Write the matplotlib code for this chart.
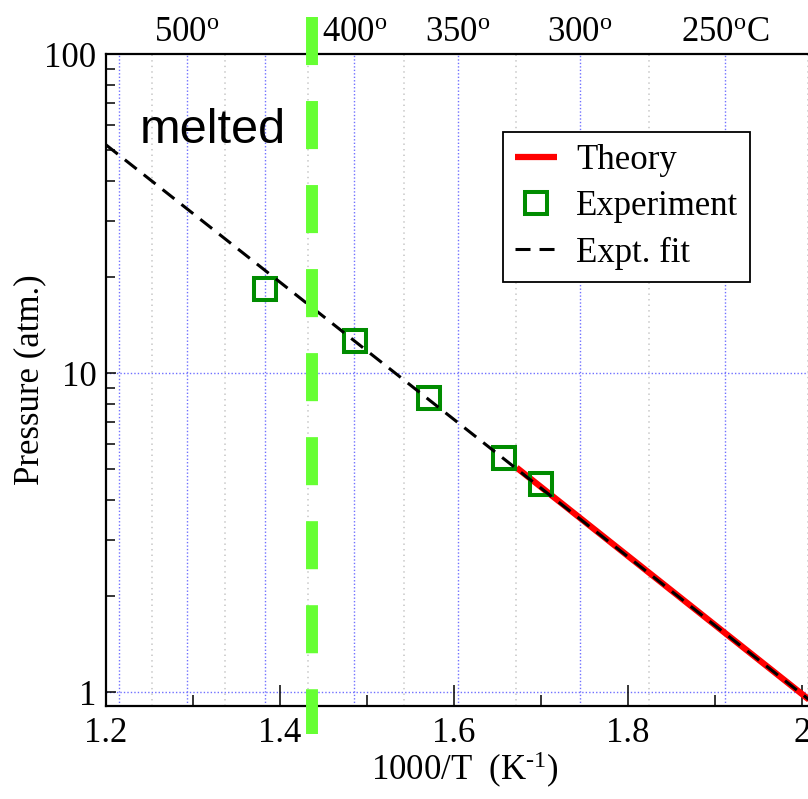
import matplotlib
matplotlib.use("Agg")
import matplotlib.pyplot as plt
import matplotlib.transforms as mtransforms
from matplotlib.ticker import FixedLocator, FixedFormatter, NullFormatter

plt.rcParams['font.family'] = ['Liberation Serif', 'DejaVu Serif']
plt.rcParams['mathtext.fontset'] = 'custom'
plt.rcParams['mathtext.rm'] = 'Liberation Serif'
plt.rcParams['mathtext.it'] = 'Liberation Serif:italic'
plt.rcParams['lines.scale_dashes'] = False

# ---- data ----
exp_x = [1.383, 1.486, 1.571, 1.658, 1.700]
exp_p = [18.3, 12.6, 8.35, 5.41, 4.49]
fit_x = [1.20, 2.025]
fit_p = [51.9, 0.87]
theory_x = [1.672, 2.025]
theory_p = [5.05, 0.87]
melt_x = 1.437
top_label_temps = [500, 400, 350, 300, 250]
top_label_texts = ['500$^{\\mathrm{o}}$', '400$^{\\mathrm{o}}$', '350$^{\\mathrm{o}}$',
                   '300$^{\\mathrm{o}}$', '250$^{\\mathrm{o}}$C']
blue_grid_temps = [550, 500, 450, 400, 350, 300, 250]
gray_grid_temps = [525, 475, 425, 375, 325, 275, 225]
y_major = [1, 10, 100]
x_major = [1.2, 1.4, 1.6, 1.8, 2.0]
x_major_labels = ['1.2', '1.4', '1.6', '1.8', '2']
x_minor = [1.3, 1.5, 1.7, 1.9]


def c_to_inv(tc):
    return 1000.0 / (tc + 273.15)


fig = plt.figure(figsize=(8.08, 7.99), dpi=100)
ax = fig.add_axes([106 / 808, 93 / 799, 717.75 / 808, 652 / 799])
ax.set_yscale('log')
ax.set_xlim(1.2, 2.025)
ax.set_ylim(0.904, 100)

# grid lines
for t in blue_grid_temps:
    ax.axvline(c_to_inv(t), color='#7070ff', ls=(0, (1, 1.5)), lw=1.0, zorder=1)
for t in gray_grid_temps:
    ax.axvline(c_to_inv(t), color='#c8c8c8', ls=(0, (1, 3)), lw=1.2, zorder=1)
for yv in [1, 10]:
    ax.axhline(yv, color='#7070ff', ls=(0, (1, 1.5)), lw=1.0, zorder=1)

# series
ax.plot(theory_x, theory_p, color='#ff0000', lw=4.5, solid_capstyle='butt',
        label='Theory', zorder=3)
ax.plot(exp_x, exp_p, ls='none', marker='s', ms=15.5, mfc='none', mec='#008c00',
        mew=2.9, label='Experiment', zorder=4)
ax.plot(fit_x, fit_p, color='black', lw=2.2, dashes=(10.8, 6.5),
        dash_capstyle='butt', label='Expt. fit', zorder=5)

# melting line
trans = mtransforms.blended_transform_factory(ax.transData, ax.transAxes)
ax.plot([melt_x, melt_x], [1.0567, -0.043], transform=trans, clip_on=False,
        color='#66ff33', lw=8.6, dashes=(34.6, 25.9), dash_capstyle='butt', zorder=6)

ax.text(1.239, 52.6, 'melted', family='Liberation Sans', fontsize=35,
        va='baseline', ha='left', zorder=7)

# top temperature labels
for t, s in zip(top_label_temps, top_label_texts):
    ax.text(c_to_inv(t), 1.007, s, transform=trans, ha='center', va='bottom',
            fontsize=25)

# ticks
ax.xaxis.set_major_locator(FixedLocator(x_major))
ax.xaxis.set_major_formatter(FixedFormatter(x_major_labels))
ax.xaxis.set_minor_locator(FixedLocator(x_minor))
ax.xaxis.set_minor_formatter(NullFormatter())
ax.yaxis.set_major_locator(FixedLocator(y_major))
ax.yaxis.set_major_formatter(FixedFormatter([str(v) for v in y_major]))
ax.tick_params(axis='x', which='major', direction='in', length=15, width=1.1,
               labelsize=25, pad=8, top=False)
ax.tick_params(axis='x', which='minor', direction='in', length=8, width=1.1, top=False)
ax.tick_params(axis='y', which='major', direction='in', length=7.5, width=1.1,
               labelsize=25, pad=7, right=False)
ax.tick_params(axis='y', which='minor', direction='in', length=6.5, width=1.1, right=False)
for sp in ax.spines.values():
    sp.set_linewidth(1.6)
    sp.set_zorder(5)

ax.set_xlabel('1000/T  (K$^{\\mathrm{\u2010}\\mathrm{1}}$)', fontsize=25)
ax.xaxis.set_label_coords(0.5, -0.068)
ax.xaxis.label.set_va('top')
ax.set_ylabel('Pressure (atm.)', fontsize=25, va='center')
ax.yaxis.set_label_coords(-0.106, 0.5)

leg = ax.legend(loc='upper left', bbox_to_anchor=(503 / 808, 1 - 132 / 799),
                bbox_transform=fig.transFigure, borderaxespad=0, fontsize=25,
                frameon=True, fancybox=False, edgecolor='black', framealpha=1,
                handlelength=1.2, handletextpad=0.55, labelspacing=0.38,
                borderpad=0.35, numpoints=1)
leg.get_frame().set_linewidth(1.3)
leg.set_zorder(8)

fig.savefig('out.png', dpi=100)
